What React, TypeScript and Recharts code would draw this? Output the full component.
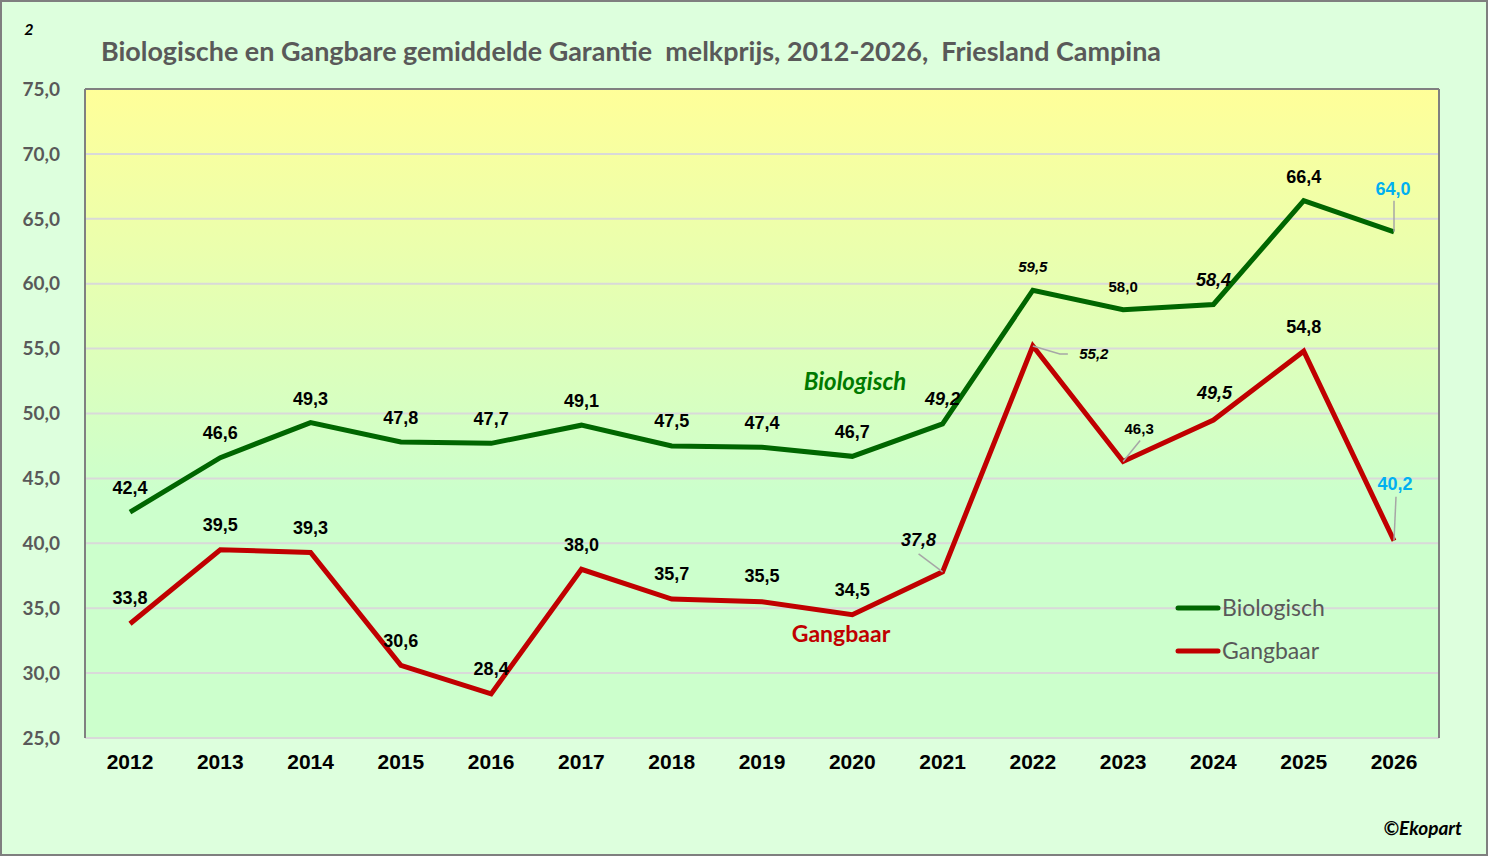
import React from 'react'
import { LineChart, Line, XAxis, YAxis, CartesianGrid, ReferenceLine } from 'recharts'

// values
const years = ['2012', '2013', '2014', '2015', '2016', '2017', '2018', '2019', '2020', '2021', '2022', '2023', '2024', '2025', '2026']
const biologisch = [42.4, 46.6, 49.3, 47.8, 47.7, 49.1, 47.5, 47.4, 46.7, 49.2, 59.5, 58.0, 58.4, 66.4, 64.0]
const gangbaar = [33.8, 39.5, 39.3, 30.6, 28.4, 38.0, 35.7, 35.5, 34.5, 37.8, 55.2, 46.3, 49.5, 54.8, 40.2]
const yTicks = [25, 30, 35, 40, 45, 50, 55, 60, 65, 70, 75]

const data = years.map((year, i) => ({ year, biologisch: biologisch[i], gangbaar: gangbaar[i] }))

const GREEN = '#006600'
const RED = '#c00000'
const GRAY_TEXT = '#595959'
const LEAD = '#a6a6a6'
const BLUE = '#00b0f0'
const AXIS_FONT = 'Lato, "Open Sans", sans-serif'
const LABEL_FONT = '"Liberation Sans", Arial, sans-serif'

type Kind = 'n' | 'i' | 's' | 'si' | 'b'
// label offset from its point, plus an optional leader polyline (relative pairs)
type Spot = { dx: number; dy: number; kind: Kind; lead?: number[] }

const KIND: Record<Kind, { size: number; italic: boolean; fill: string }> = {
  n: { size: 18, italic: false, fill: '#000' },
  i: { size: 18, italic: true, fill: '#000' },
  s: { size: 15, italic: false, fill: '#000' },
  si: { size: 15, italic: true, fill: '#000' },
  b: { size: 18, italic: false, fill: BLUE },
}

const bioSpots: Spot[] = [
  { dx: 0, dy: -25, kind: 'n' },
  { dx: 0, dy: -25, kind: 'n' },
  { dx: 0, dy: -24, kind: 'n' },
  { dx: 0, dy: -25, kind: 'n' },
  { dx: 0, dy: -25, kind: 'n' },
  { dx: 0, dy: -25, kind: 'n' },
  { dx: 0, dy: -25, kind: 'n' },
  { dx: 0, dy: -25, kind: 'n' },
  { dx: 0, dy: -25, kind: 'n' },
  { dx: 0, dy: -25, kind: 'i' },
  { dx: 0, dy: -24, kind: 'si' },
  { dx: 0, dy: -23, kind: 's' },
  { dx: 0, dy: -25, kind: 'i' },
  { dx: 0, dy: -24, kind: 'n' },
  { dx: -1, dy: -43, kind: 'b', lead: [0, -31] },
]

const gangSpots: Spot[] = [
  { dx: 0, dy: -26, kind: 'n' },
  { dx: 0, dy: -25, kind: 'n' },
  { dx: 0, dy: -25, kind: 'n' },
  { dx: 0, dy: -25, kind: 'n' },
  { dx: 0, dy: -25, kind: 'n' },
  { dx: 0, dy: -25, kind: 'n' },
  { dx: 0, dy: -26, kind: 'n' },
  { dx: 0, dy: -26, kind: 'n' },
  { dx: 0, dy: -25, kind: 'n' },
  { dx: -24, dy: -32, kind: 'i', lead: [-24, -18] },
  { dx: 61, dy: 8, kind: 'si', lead: [27, 8, 35, 8] },
  { dx: 16, dy: -33, kind: 's', lead: [17, -21] },
  { dx: 1, dy: -27, kind: 'i' },
  { dx: 0, dy: -25, kind: 'n' },
  { dx: 1, dy: -57, kind: 'b', lead: [2, -44] },
]

const fmt = (v: number) => v.toFixed(1).replace('.', ',')

function pointLabel(spots: Spot[]) {
  return (props: any) => {
    const { x, y, index, value } = props
    const s = spots[index]
    if (!s || x == null || y == null) return null
    const st = KIND[s.kind]
    let pts = `${x},${y}`
    if (s.lead) {
      for (let k = 0; k < s.lead.length; k += 2) pts += ` ${x + s.lead[k]},${y + s.lead[k + 1]}`
    }
    return (
      <g key={`lbl-${index}`}>
        {s.lead && <polyline points={pts} fill="none" stroke={LEAD} strokeWidth={1.5} />}
        <text
          x={x + s.dx}
          y={y + s.dy + st.size * 0.36}
          textAnchor="middle"
          fontFamily={LABEL_FONT}
          fontWeight="bold"
          fontStyle={st.italic ? 'italic' : 'normal'}
          fontSize={st.size}
          fill={st.fill}
        >
          {fmt(Number(value))}
        </text>
      </g>
    )
  }
}

export default function App() {
  return (
    <div style={{ position: 'absolute', left: 0, top: 0, width: 1488, height: 856, background: '#ddffdd' }}>
      <LineChart width={1488} height={856} data={data} margin={{ top: 89, right: 0, bottom: 88, left: 0 }}>
        <defs>
          <linearGradient id="plotBg" x1="0" y1="0" x2="0" y2="1">
            <stop offset="0%" stopColor="#ffff99" />
            <stop offset="62%" stopColor="#ccffcc" />
            <stop offset="100%" stopColor="#ccffcc" />
          </linearGradient>
        </defs>
        <CartesianGrid
          yAxisId="l"
          vertical={false}
          stroke="#d9d9d9"
          strokeWidth={2}
          fill="url(#plotBg)"
          fillOpacity={1}
        />
        <XAxis
          dataKey="year"
          height={30}
          padding={{ left: 45, right: 45 }}
          axisLine={false}
          tickLine={false}
          tickSize={0}
          tickMargin={16}
          tick={{ fill: '#000', fontSize: 21, fontWeight: 'bold', fontFamily: LABEL_FONT }}
        />
        <YAxis
          yAxisId="l"
          width={85}
          domain={[25, 75]}
          ticks={yTicks}
          interval={0}
          axisLine={{ stroke: '#808080', strokeWidth: 2 }}
          tickLine={false}
          tickSize={0}
          tickMargin={25}
          tickFormatter={fmt}
          tick={{ fill: GRAY_TEXT, fontSize: 19, fontWeight: 'bold', fontFamily: AXIS_FONT }}
        />
        <YAxis
          yAxisId="r"
          orientation="right"
          width={49}
          domain={[25, 75]}
          ticks={yTicks}
          tick={false}
          tickLine={false}
          axisLine={{ stroke: '#808080', strokeWidth: 2 }}
        />
        <ReferenceLine yAxisId="l" y={75} stroke="#808080" strokeWidth={2} />
        <Line
          yAxisId="l"
          dataKey="biologisch"
          name="Biologisch"
          type="linear"
          stroke={GREEN}
          strokeWidth={5}
          dot={false}
          isAnimationActive={false}
          label={pointLabel(bioSpots)}
        />
        <Line
          yAxisId="l"
          dataKey="gangbaar"
          name="Gangbaar"
          type="linear"
          stroke={RED}
          strokeWidth={5}
          dot={false}
          isAnimationActive={false}
          label={pointLabel(gangSpots)}
        />
      </LineChart>
      <svg
        width={1488}
        height={856}
        style={{ position: 'absolute', left: 0, top: 0, pointerEvents: 'none' }}
      >
        <text x={29} y={35} textAnchor="middle" fontFamily={AXIS_FONT} fontWeight="bold" fontStyle="italic" fontSize={16} fill="#000">2</text>
        <text
          x={101}
          y={61}
          fontFamily={AXIS_FONT}
          fontWeight="bold"
          fontSize={27}
          fill={GRAY_TEXT}
          textLength={1060}
          lengthAdjust="spacingAndGlyphs"
          style={{ whiteSpace: 'pre' }}
        >
          Biologische en Gangbare gemiddelde Garantie  melkprijs, 2012-2026,  Friesland Campina
        </text>
        <text x={855} y={390} textAnchor="middle" fontFamily={AXIS_FONT} fontWeight="bold" fontStyle="italic" fontSize={24} fill="#007a00">Biologisch</text>
        <text x={841} y={642} textAnchor="middle" fontFamily={AXIS_FONT} fontWeight="bold" fontSize={23} fill={RED}>Gangbaar</text>
        <line x1={1178} y1={608} x2={1218} y2={608} stroke={GREEN} strokeWidth={5} strokeLinecap="round" />
        <text x={1222} y={616} fontFamily={AXIS_FONT} fontSize={23} fill={GRAY_TEXT}>Biologisch</text>
        <line x1={1178} y1={651} x2={1218} y2={651} stroke={RED} strokeWidth={5} strokeLinecap="round" />
        <text x={1222} y={659} fontFamily={AXIS_FONT} fontSize={23} fill={GRAY_TEXT}>Gangbaar</text>
        <text x={1462} y={835} textAnchor="end" fontFamily={AXIS_FONT} fontWeight="bold" fontStyle="italic" fontSize={19} fill="#000">©Ekopart</text>
        <rect x={1} y={1} width={1486} height={854} fill="none" stroke="#7f7f7f" strokeWidth={2} />
      </svg>
    </div>
  )
}
